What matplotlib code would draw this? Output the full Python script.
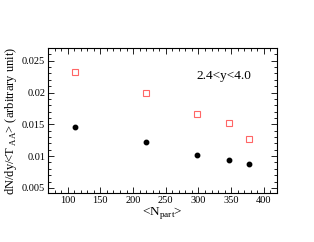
import matplotlib
matplotlib.use("Agg")
import matplotlib.pyplot as plt
from matplotlib.ticker import MultipleLocator

# ---------------------------------------------------------------------------
# Data
# ---------------------------------------------------------------------------
npart = [111, 220, 297, 347, 377]
open_sq = [0.0233, 0.0199, 0.0167, 0.0152, 0.0127]
filled = [0.0146, 0.0122, 0.0102, 0.0094, 0.0087]

plt.rcParams["font.family"] = ["Liberation Serif", "DejaVu Serif"]
plt.rcParams["mathtext.fontset"] = "custom"
plt.rcParams["mathtext.rm"] = "Liberation Serif"

fig = plt.figure(figsize=(3.14, 2.42), dpi=100)
ax = fig.add_axes([48 / 314, 1 - 193 / 242, (277 - 48) / 314, (193 - 48) / 242])

ax.plot(npart, open_sq, "s", ms=3.8, mfc="none", mec="#ff6666", mew=0.8)
ax.plot(npart, filled, "o", ms=3.2, color="black")

ax.set_xlim(70, 420)
ax.set_ylim(0.0042, 0.027)
ax.xaxis.set_major_locator(MultipleLocator(50))
ax.xaxis.set_minor_locator(MultipleLocator(10))
ax.yaxis.set_major_locator(MultipleLocator(0.005))
ax.yaxis.set_minor_locator(MultipleLocator(0.001))
ax.set_yticks([0.005, 0.01, 0.015, 0.02, 0.025])
ax.set_yticklabels(["0.005", "0.01", "0.015", "0.02", "0.025"])
ax.set_xticks([100, 150, 200, 250, 300, 350, 400])

ax.tick_params(which="both", direction="in", top=True, right=True,
               labelsize=7.5, width=0.6, pad=2)
ax.tick_params(which="major", length=4)
ax.tick_params(which="minor", length=2)
for s in ax.spines.values():
    s.set_linewidth(0.8)

ax.set_xlabel(r"<N$_{\mathrm{part}}$>", fontsize=9.5, labelpad=0)
ax.set_ylabel(r"dN/dy/<T$_{\ \mathrm{AA}}$> (arbitrary unit)", fontsize=9, labelpad=2)
ax.text(339, 0.0226, "2.4<y<4.0", fontsize=9.5, ha="center", va="center")

fig.savefig("out.png", dpi=100)
